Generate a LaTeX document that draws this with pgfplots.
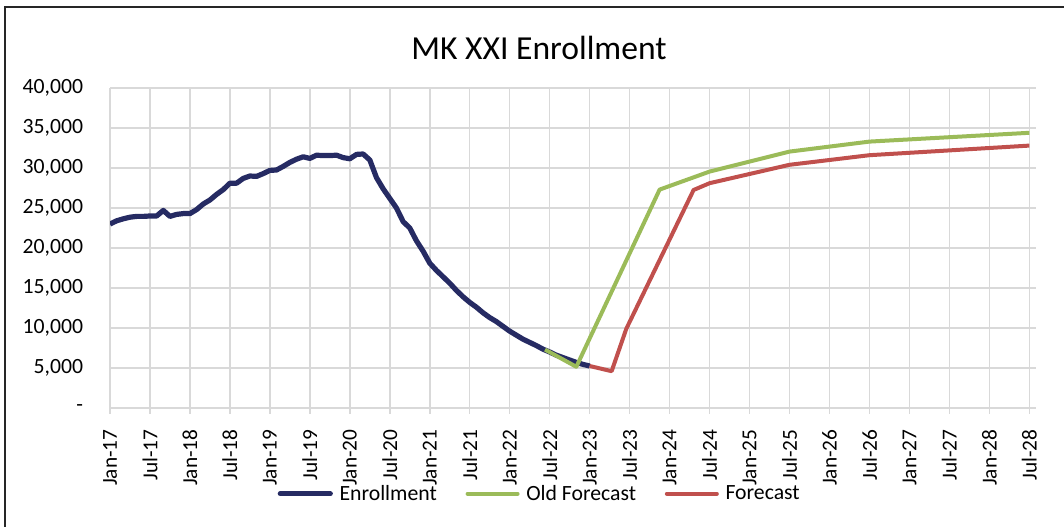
\documentclass[border=0pt]{standalone}
\usepackage{pgfplots}
\pgfplotsset{compat=1.18}
\usepackage{fontspec}
\setmainfont{Carlito}
\definecolor{enr}{HTML}{262B63}
\definecolor{oldf}{HTML}{9BBB59}
\definecolor{newf}{HTML}{C0504D}
\definecolor{gridc}{HTML}{D9D9D9}
\begin{document}
\begin{tikzpicture}
\useasboundingbox (0,0) rectangle (798pt,395.25pt);
\draw[line width=1.6pt, black!85] (3.75pt,-2pt) -- (3.75pt,390pt) -- (800pt,390pt);
\node[anchor=base, inner sep=0pt, font=\fontsize{25.2}{30}\selectfont] at (404.25pt,350.25pt) {MK XXI Enrollment};
\begin{axis}[
  at={(82.5pt,89.25pt)}, anchor=south west,
  scale only axis, width=694.5pt, height=240pt,
  xmin=0, xmax=139, ymin=0, ymax=40000,
  scaled y ticks=false,
  axis line style={draw=none},
  grid=major, major grid style={draw=gridc, line width=1.1pt},
  xtick={0,6,...,138},
  xticklabels={Jan-17,Jul-17,Jan-18,Jul-18,Jan-19,Jul-19,Jan-20,Jul-20,Jan-21,Jul-21,Jan-22,Jul-22,Jan-23,Jul-23,Jan-24,Jul-24,Jan-25,Jul-25,Jan-26,Jul-26,Jan-27,Jul-27,Jan-28,Jul-28},
  ytick={0,5000,...,40000},
  yticklabels={{-\hspace{13pt}},{5,000},{10,000},{15,000},{20,000},{25,000},{30,000},{35,000},{40,000}},
  xtick pos=bottom, tick align=outside, major tick length=4.5pt,
  xtick style={draw=gridc, line width=1.1pt},
  ytick style={draw=none},
  ytick pos=left,
  xticklabel style={rotate=90, anchor=east, inner sep=0pt, font=\fontsize{16}{19}\selectfont},
  yticklabel style={anchor=east, inner sep=0pt, font=\fontsize{16.3}{19}\selectfont},
  xticklabel shift=11.5pt,
  yticklabel shift=15.5pt,
  /pgf/number format/assume math mode=true,
  legend columns=3,
  legend style={at={(0.4644,-0.268)}, anchor=center, draw=none, fill=none,
    font=\fontsize{16.3}{19}\selectfont, inner sep=0pt,
    /tikz/every odd column/.append style={column sep=3pt},
    /tikz/every even column/.append style={column sep=19.5pt}},
  legend image code/.code={\draw[#1, line cap=round] (0pt,0pt) -- (37.5pt,0pt);},
  line join=round,
]
\addplot[enr, line width=3.9pt] coordinates {
(0,23000) (1,23400) (2,23650) (3,23850) (4,23950) (5,23950) (6,24000) (7,24000)
(8,24700) (9,23950) (10,24200) (11,24300) (12,24300) (13,24800) (14,25500) (15,26000)
(16,26700) (17,27300) (18,28100) (19,28100) (20,28700) (21,29000) (22,28950) (23,29300)
(24,29700) (25,29750) (26,30200) (27,30700) (28,31100) (29,31400) (30,31200) (31,31600)
(32,31550) (33,31550) (34,31600) (35,31300) (36,31150) (37,31700) (38,31750) (39,31000)
(40,28800) (41,27400) (42,26200) (43,25000) (44,23300) (45,22500) (46,20900) (47,19600)
(48,18100) (49,17200) (50,16400) (51,15600) (52,14700) (53,13900) (54,13200) (55,12600)
(56,11900) (57,11300) (58,10800) (59,10200) (60,9600) (61,9100) (62,8600) (63,8200)
(64,7800) (65,7350) (66,7000) (67,6600) (68,6300) (69,6000) (70,5700) (71,5450) (72,5250)
};
\addlegendentry{Enrollment}
\addplot[oldf, line width=3pt] coordinates {
(65.3,7300) (70,5150) (82.5,27300) (90,29550) (102,32050) (114,33300) (126,33850) (138,34400)
};
\addlegendentry{Old Forecast}
\addplot[newf, line width=3pt] coordinates {
(72,5250) (75.3,4600) (77.5,9900) (87.6,27250) (90,28100) (102,30400) (114,31600) (126,32200) (138,32800)
};
\addlegendentry{Forecast}
\end{axis}
\end{tikzpicture}
\end{document}
